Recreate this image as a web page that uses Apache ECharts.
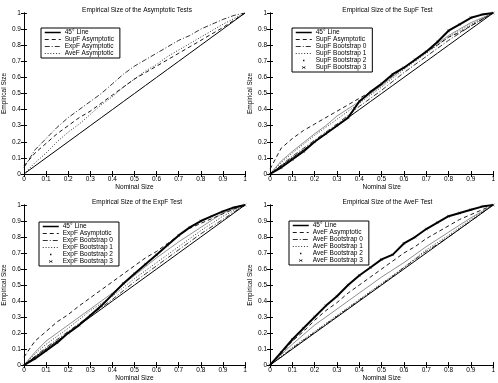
<!DOCTYPE html>
<html>
<head>
<meta charset="utf-8">
<script src="https://cdn.jsdelivr.net/npm/echarts@6/dist/echarts.min.js"></script>
<style>
html, body { margin: 0; padding: 0; background: #fff; }
#chart { width: 498px; height: 383px; }
</style>
</head>
<body>
<div id="chart"></div>
<script>
// nominal size grid
var nominal = [0, 0.05, 0.1, 0.15, 0.2, 0.25, 0.3, 0.35, 0.4, 0.45, 0.5, 0.55, 0.6, 0.65, 0.7, 0.75, 0.8, 0.85, 0.9, 0.95, 1];
var ticks = ['0', '0.1', '0.2', '0.3', '0.4', '0.5', '0.6', '0.7', '0.8', '0.9', '1'];

// panel 1 - asymptotic tests
var asySupF = [0.05, 0.13, 0.19, 0.25, 0.30, 0.35, 0.39, 0.44, 0.49, 0.54, 0.59, 0.63, 0.67, 0.71, 0.75, 0.79, 0.83, 0.87, 0.91, 0.955, 1];
var asyExpF = [0.04, 0.15, 0.22, 0.29, 0.35, 0.40, 0.45, 0.50, 0.56, 0.62, 0.67, 0.71, 0.75, 0.79, 0.83, 0.86, 0.90, 0.93, 0.96, 0.985, 1];
var asyAveF = [0.00, 0.07, 0.13, 0.20, 0.26, 0.31, 0.37, 0.43, 0.48, 0.54, 0.59, 0.64, 0.68, 0.73, 0.77, 0.81, 0.85, 0.89, 0.93, 0.965, 1];

// panel 2 - SupF
var supAsy = [0.03, 0.16, 0.22, 0.27, 0.31, 0.35, 0.39, 0.43, 0.47, 0.51, 0.56, 0.61, 0.66, 0.71, 0.76, 0.80, 0.85, 0.88, 0.92, 0.96, 1];
var supB0 = [0, 0.055, 0.11, 0.16, 0.21, 0.26, 0.31, 0.365, 0.42, 0.47, 0.52, 0.575, 0.63, 0.68, 0.73, 0.78, 0.83, 0.875, 0.92, 0.96, 1];
var supB1 = [0, 0.07, 0.13, 0.185, 0.24, 0.29, 0.34, 0.39, 0.44, 0.49, 0.54, 0.595, 0.65, 0.70, 0.75, 0.80, 0.85, 0.89, 0.93, 0.965, 1];
var supB2 = [0, 0.08, 0.14, 0.195, 0.25, 0.30, 0.36, 0.405, 0.45, 0.50, 0.55, 0.605, 0.66, 0.71, 0.76, 0.81, 0.86, 0.90, 0.94, 0.97, 1];
var supB3 = [0, 0.04, 0.09, 0.14, 0.20, 0.25, 0.30, 0.35, 0.45, 0.51, 0.56, 0.62, 0.66, 0.71, 0.76, 0.82, 0.89, 0.93, 0.97, 0.99, 1];

// panel 3 - ExpF
var expAsy = [0.05, 0.15, 0.21, 0.27, 0.315, 0.37, 0.42, 0.47, 0.52, 0.57, 0.62, 0.67, 0.71, 0.76, 0.81, 0.855, 0.885, 0.915, 0.945, 0.975, 1];
var expB0 = [0, 0.055, 0.11, 0.16, 0.21, 0.26, 0.31, 0.36, 0.41, 0.465, 0.52, 0.57, 0.62, 0.67, 0.72, 0.77, 0.82, 0.865, 0.91, 0.955, 1];
var expB1 = [0, 0.07, 0.13, 0.18, 0.23, 0.285, 0.34, 0.385, 0.43, 0.485, 0.54, 0.59, 0.64, 0.69, 0.74, 0.79, 0.84, 0.885, 0.93, 0.965, 1];
var expB2 = [0, 0.08, 0.15, 0.20, 0.25, 0.30, 0.35, 0.40, 0.45, 0.505, 0.56, 0.615, 0.67, 0.72, 0.77, 0.815, 0.86, 0.905, 0.95, 0.975, 1];
var expB3 = [0, 0.04, 0.09, 0.14, 0.20, 0.25, 0.31, 0.37, 0.44, 0.51, 0.57, 0.63, 0.69, 0.75, 0.81, 0.86, 0.90, 0.93, 0.96, 0.985, 1];

// panel 4 - AveF
var aveAsy = [0, 0.07, 0.15, 0.21, 0.28, 0.34, 0.39, 0.45, 0.50, 0.55, 0.60, 0.65, 0.70, 0.74, 0.79, 0.83, 0.87, 0.91, 0.94, 0.97, 1];
var aveB0 = [0, 0.05, 0.105, 0.155, 0.205, 0.255, 0.305, 0.355, 0.405, 0.455, 0.505, 0.555, 0.61, 0.66, 0.71, 0.755, 0.80, 0.85, 0.90, 0.95, 1];
var aveB1 = [0, 0.055, 0.11, 0.16, 0.21, 0.26, 0.31, 0.36, 0.41, 0.46, 0.51, 0.56, 0.61, 0.665, 0.72, 0.765, 0.81, 0.86, 0.91, 0.955, 1];
var aveB2 = [0, 0.065, 0.13, 0.19, 0.25, 0.30, 0.35, 0.40, 0.45, 0.50, 0.55, 0.595, 0.64, 0.69, 0.74, 0.785, 0.83, 0.875, 0.92, 0.96, 1];
var aveB3 = [0, 0.08, 0.16, 0.23, 0.30, 0.37, 0.43, 0.50, 0.56, 0.61, 0.66, 0.69, 0.76, 0.80, 0.85, 0.89, 0.93, 0.95, 0.97, 0.99, 1];

var diag = [0, 0.05, 0.1, 0.15, 0.2, 0.25, 0.3, 0.35, 0.4, 0.45, 0.5, 0.55, 0.6, 0.65, 0.7, 0.75, 0.8, 0.85, 0.9, 0.95, 1];

var FONT = 'Liberation Sans';
var DOT_ICON = 'path://M0,0M24,0M24,8M0,8M11,3h2v2h-2z';
var X_ICON = 'path://M0,0M24,0M24,8M0,8M10,2.2L12,3.6L14,2.2L14.8,3L13,4L14.8,5L14,5.8L12,4.4L10,5.8L9.2,5L11,4L9.2,3z';
var X_SYMBOL = 'path://M0,0.7L0.7,0L5,4.3L9.3,0L10,0.7L5.7,5L10,9.3L9.3,10L5,5.7L0.7,10L0,9.3L4.3,5z';

function pairs(ys) {
	return nominal.map(function(x, i) { return [x, ys[i]]; });
}

var grids = [
	{left: 19, top: 13, width: 226, height: 161},
	{left: 270, top: 13, width: 225, height: 161},
	{left: 19, top: 205, width: 226, height: 161},
	{left: 270, top: 205, width: 225, height: 161}
];

var xAxes = [], yAxes = [];
grids.forEach(function(g, i) {
	xAxes.push({
		gridIndex: i, type: 'value', min: 0, max: 1, interval: 0.1,
		name: 'Nominal Size', nameLocation: 'middle', nameGap: 5,
		nameTextStyle: {fontSize: 6.5, fontFamily: FONT, color: '#000', verticalAlign: 'top'},
		axisLine: {lineStyle: {color: '#000', width: 1}},
		axisTick: {inside: true, length: 3, lineStyle: {color: '#000'}},
		axisLabel: {fontSize: 6.5, fontFamily: FONT, color: '#000', margin: 2,
			formatter: function(v) { return ticks[Math.round(v * 10)]; }},
		splitLine: {show: false}
	});
	xAxes.push({
		gridIndex: i, type: 'value', min: 0, max: 1, interval: 0.1, position: 'top',
		axisLine: {lineStyle: {color: '#000', width: 1}},
		axisTick: {inside: true, length: 3, lineStyle: {color: '#000'}},
		axisLabel: {show: false}, splitLine: {show: false}
	});
	yAxes.push({
		gridIndex: i, type: 'value', min: 0, max: 1, interval: 0.1,
		name: 'Empirical Size', nameLocation: 'middle', nameGap: 13, nameRotate: 90,
		nameTextStyle: {fontSize: 6.5, fontFamily: FONT, color: '#000'},
		axisLine: {lineStyle: {color: '#000', width: 1}},
		axisTick: {inside: true, length: 3, lineStyle: {color: '#000'}},
		axisLabel: {fontSize: 6.5, fontFamily: FONT, color: '#000', margin: 3,
			formatter: function(v) { return ticks[Math.round(v * 10)]; }},
		splitLine: {show: false}
	});
	yAxes.push({
		gridIndex: i, type: 'value', min: 0, max: 1, interval: 0.1, position: 'right',
		axisLine: {lineStyle: {color: '#000', width: 1}},
		axisTick: {inside: true, length: 3, lineStyle: {color: '#000'}},
		axisLabel: {show: false}, splitLine: {show: false}
	});
});

var STYLES = {
	solid: {type: 'solid', width: 1},
	dashed: {type: [4, 3], width: 0.9},
	dashdot: {type: [5, 2, 1, 2], width: 0.8},
	dotted: {type: [1, 1.8], width: 0.8},
	dots: {type: 'solid', width: 0.6, color: '#444'},
	cross: {type: 'solid', width: 2}
};

var series = [];
function addLine(panel, name, ys, style) {
	var s = {
		name: name, type: 'line', xAxisIndex: panel * 2, yAxisIndex: panel * 2,
		data: pairs(ys), symbol: 'none', smooth: false, silent: true,
		lineStyle: Object.assign({color: '#000'}, STYLES[style]),
		itemStyle: {color: '#000'}, z: style === 'cross' ? 3 : 2
	};
	if (style === 'cross') {
		s.symbol = X_SYMBOL;
		s.symbolSize = 3;
		s.showSymbol = true;
	}
	series.push(s);
}

function legendItem(name, style) {
	if (style === 'dots') return {name: name, icon: DOT_ICON, itemStyle: {color: '#000'}};
	if (style === 'cross') return {name: name, icon: X_ICON, itemStyle: {color: '#000'}};
	var ls = Object.assign({color: '#000'}, STYLES[style]);
	if (style === 'solid') ls.width = 1.5;
	return {name: name, itemStyle: {opacity: 0}, lineStyle: ls};
}

var panels = [
	{title: 'Empirical Size of the Asymptotic Tests', legend: [41, 28], lines: [
		['45° Line', diag, 'solid'], ['SupF Asymptotic', asySupF, 'dashed'],
		['ExpF Asymptotic', asyExpF, 'dashdot'], ['AveF Asymptotic', asyAveF, 'dotted']]},
	{title: 'Empirical Size of the SupF Test', legend: [292, 28], lines: [
		['45° Line', diag, 'solid'], ['SupF Asymptotic', supAsy, 'dashed'],
		['SupF Bootstrap 0', supB0, 'dashdot'], ['SupF Bootstrap 1', supB1, 'dotted'],
		['SupF Bootstrap 2', supB2, 'dots'], ['SupF Bootstrap 3', supB3, 'cross']]},
	{title: 'Empirical Size of the ExpF Test', legend: [39, 222], lines: [
		['45° Line', diag, 'solid'], ['ExpF Asymptotic', expAsy, 'dashed'],
		['ExpF Bootstrap 0', expB0, 'dashdot'], ['ExpF Bootstrap 1', expB1, 'dotted'],
		['ExpF Bootstrap 2', expB2, 'dots'], ['ExpF Bootstrap 3', expB3, 'cross']]},
	{title: 'Empirical Size of the AveF Test', legend: [289, 221], lines: [
		['45° Line', diag, 'solid'], ['AveF Asymptotic', aveAsy, 'dashed'],
		['AveF Bootstrap 0', aveB0, 'dashdot'], ['AveF Bootstrap 1', aveB1, 'dotted'],
		['AveF Bootstrap 2', aveB2, 'dots'], ['AveF Bootstrap 3', aveB3, 'cross']]}
];

var titles = [], legends = [];
panels.forEach(function(p, i) {
	var g = grids[i];
	titles.push({
		text: p.title, left: g.left + g.width / 2, top: g.top - 11, textAlign: 'center',
		textStyle: {fontSize: 6.5, fontWeight: 'normal', fontFamily: FONT, color: '#000'}
	});
	p.lines.forEach(function(l) { addLine(i, l[0], l[1], l[2]); });
	legends.push({
		orient: 'vertical', left: p.legend[0], top: p.legend[1],
		data: p.lines.map(function(l) { return legendItem(l[0], l[2]); }),
		backgroundColor: '#fff', borderColor: '#000', borderWidth: 1, borderRadius: 0,
		padding: [1, 6, 1, 3], itemGap: 0, itemWidth: 16, itemHeight: 7,
		selectedMode: false,
		textStyle: {fontSize: 6.5, fontFamily: FONT, color: '#000', padding: [0, 0, 0, -1]}
	});
});

var chart = echarts.init(document.getElementById('chart'));
chart.setOption({
	animation: false,
	backgroundColor: '#fff',
	title: titles,
	legend: legends,
	grid: grids,
	xAxis: xAxes,
	yAxis: yAxes,
	series: series
});
</script>
</body>
</html>
